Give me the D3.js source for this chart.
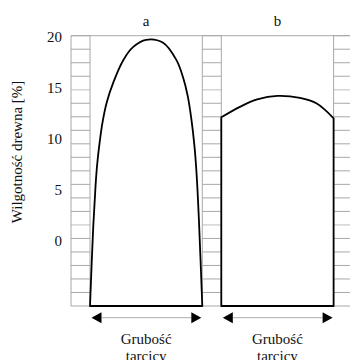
<!DOCTYPE html>
<html><head><meta charset="utf-8">
<script src="https://cdn.jsdelivr.net/npm/d3@7"></script>
<style>body{margin:0;background:#fff}svg{display:block}</style>
</head><body><svg id="c" width="350" height="360"></svg>
<script>
// ---- data ----
const panels = ["a", "b"];
const yTicks = [0, 5, 10, 15, 20];
const posA = [0, 0.029, 0.05, 0.065, 0.089, 0.113, 0.15, 0.207, 0.296, 0.385, 0.5, 0.651, 0.77, 0.829, 0.87, 0.903, 0.93, 0.95, 0.97, 1];
const moistA = [-6.4, 1.4, 5.5, 7.6, 9.9, 11.7, 13.6, 15.5, 17.7, 19.0, 19.7, 19.4, 17.7, 16.0, 14.2, 11.9, 9.3, 6.4, 2.0, -6.4];
const posB = [0, 0.17, 0.32, 0.5, 0.7, 0.85, 1];
const moistB = [12.1, 13.15, 13.85, 14.2, 14.0, 13.45, 12.0];
const xLabel = ["Grubość", "tarcicy"];
const yLabel = "Wilgotność drewna [%]";

// ---- layout ----
const FONT = "'Liberation Serif', 'Times New Roman', 'DejaVu Serif', serif";
const svg = d3.select("#c");
const plotTop = 35.7, plotBottom = 306;
const y = d3.scaleLinear().domain([-6.4, 20.1]).range([plotBottom, plotTop]);
const gridY = d3.scaleLinear().domain([0, 20]).range([plotBottom, plotTop]);
const colW = 19, panW = 112.3, plotLeft = 71;
const panelX = d3.scaleOrdinal().domain(panels).range([plotLeft + colW, plotLeft + 2 * colW + panW]);
const cols = [[plotLeft, plotLeft + colW], [plotLeft + colW + panW, plotLeft + 2 * colW + panW], [plotLeft + 2 * colW + 2 * panW, plotLeft + 3 * colW + 2 * panW]];
const plotRight = cols[2][1];

// grid in columns
const g = svg.append("g");
d3.range(0, 21).forEach(i => {
  const yy = gridY(i);
  const light = (i === 16 || i === 6);
  cols.forEach(([a, b]) => {
    g.append("line").attr("x1", a).attr("x2", b).attr("y1", yy).attr("y2", yy)
      .attr("stroke", light ? "#d6d6d6" : "#a8a8a8").attr("stroke-width", light ? 1.6 : 1);
  });
});
g.append("line").attr("x1", plotLeft).attr("x2", plotRight).attr("y1", plotTop).attr("y2", plotTop).attr("stroke", "#a8a8a8");
[cols[0][0], cols[0][1], cols[1][0], cols[1][1], cols[2][0]].forEach(xx => {
  g.append("line").attr("x1", xx).attr("x2", xx).attr("y1", plotTop).attr("y2", plotBottom).attr("stroke", "#a8a8a8");
});

// y tick labels
svg.append("g").selectAll("text").data(yTicks).join("text")
  .attr("x", 62).attr("y", d => y(d)).attr("dy", "0.35em").attr("text-anchor", "end")
  .attr("font-family", FONT).attr("font-size", 15).attr("fill", "#111").text(d => d);

// y label
svg.append("text").attr("transform", "translate(22,152) rotate(-90)").attr("text-anchor", "middle")
  .attr("font-family", FONT).attr("font-size", 15).attr("fill", "#111").text(yLabel);

// shapes
panels.forEach((p, i) => {
  const x0 = panelX(p);
  const x = d3.scaleLinear().domain([0, 1]).range([x0, x0 + panW]);
  const pos = i === 0 ? posA : posB;
  const val = i === 0 ? moistA : moistB;
  const line = d3.line().x(d => x(d[0])).y(d => y(d[1])).curve(d3.curveCatmullRom.alpha(0.5));
  const pts = pos.map((t, k) => [t, val[k]]);
  let d = line(pts);
  d += `L${x(1)},${plotBottom}L${x(0)},${plotBottom}Z`;
  if (i === 1) d = `M${x(0)},${plotBottom}L${x(0)},${y(val[0])}` + d.replace(/^M/, "L");
  svg.append("path").attr("d", d).attr("fill", "none").attr("stroke", "#000").attr("stroke-width", 1.8).attr("stroke-linejoin", "round");

  svg.append("text").attr("x", x(0.5)).attr("y", 26).attr("text-anchor", "middle")
    .attr("font-family", FONT).attr("font-size", 15).attr("fill", "#111").text(p);

  const ay = 317.7, aL = x(0) + 1.5, aR = x(1) - 1, ah = 10, hw = 5.5;
  svg.append("line").attr("x1", aL + ah).attr("x2", aR - ah).attr("y1", ay).attr("y2", ay).attr("stroke", "#bdbdbd").attr("stroke-width", 1.2);
  svg.append("path").attr("d", `M${aL},${ay}L${aL + ah},${ay - hw}L${aL + ah},${ay + hw}Z`).attr("fill", "#000");
  svg.append("path").attr("d", `M${aR},${ay}L${aR - ah},${ay - hw}L${aR - ah},${ay + hw}Z`).attr("fill", "#000");

  const t = svg.append("text").attr("x", x(0.5)).attr("y", 344).attr("text-anchor", "middle")
    .attr("font-family", FONT).attr("font-size", 15).attr("fill", "#111");
  xLabel.forEach((s, k) => t.append("tspan").attr("x", x(0.5)).attr("dy", k === 0 ? 0 : 17).text(s));
});
</script></body></html>
